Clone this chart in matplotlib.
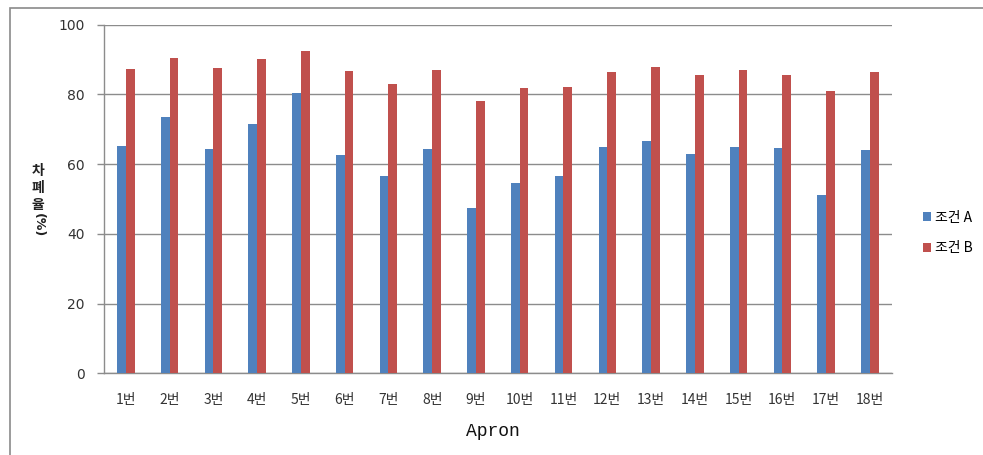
import matplotlib
matplotlib.use("Agg")
import matplotlib.pyplot as plt
import numpy as np
from matplotlib.patches import Rectangle

plt.rcParams['font.family'] = ['Noto Sans CJK KR', 'DejaVu Sans']

categories = [f"{i}번" for i in range(1, 19)]
cond_a = [65.1, 73.6, 64.2, 71.6, 80.4, 62.5, 56.6, 64.2, 47.4,
          54.6, 56.6, 64.8, 66.7, 62.8, 64.8, 64.5, 51.1, 63.9]
cond_b = [87.1, 90.4, 87.4, 90.0, 92.3, 86.6, 82.8, 87.0, 78.2,
          81.7, 82.1, 86.3, 87.7, 85.4, 87.0, 85.4, 80.8, 86.3]
series_names = ["조건 A", "조건 B"]
y_ticks = [0, 20, 40, 60, 80, 100]

blue = "#4F81BD"
red = "#C0504D"
grid_c = "#8C8C8C"

W, H = 983, 455
fig = plt.figure(figsize=(W / 100, H / 100), dpi=100)
ax = fig.add_axes([104 / W, 1 - 373.3 / H, (891.7 - 104) / W, (373.3 - 24.5) / H])

x = np.arange(len(categories))
bw = 0.2
ax.bar(x - bw / 2, cond_a, width=bw, color=blue, label=series_names[0], zorder=3)
ax.bar(x + bw / 2, cond_b, width=bw, color=red, label=series_names[1], zorder=3)

ax.set_xlim(-0.5, len(categories) - 0.5)
ax.set_ylim(0, 100)
ax.set_yticks(y_ticks)
ax.set_yticklabels([str(v) for v in y_ticks], fontsize=10, color="#333333",
                   family=['DejaVu Sans'])
ax.set_xticks(x)
ax.set_xticklabels(categories, fontsize=10, color="#333333")
ax.tick_params(axis='x', length=0, pad=14)
ax.tick_params(axis='y', length=5, width=1, color=grid_c, pad=9)

ax.grid(axis='y', color=grid_c, linewidth=1, zorder=0)
for s in ['top', 'right']:
    ax.spines[s].set_visible(False)
for s in ['left', 'bottom']:
    ax.spines[s].set_color(grid_c)
    ax.spines[s].set_linewidth(1)

# axis titles
fig.text(493 / W, 1 - 432 / H, "Apron", ha='center', va='center',
         fontsize=13, family=['Liberation Mono'], color="#111111")
for ch, yy in zip("차폐율", [171, 188, 205]):
    fig.text(38 / W, 1 - yy / H, ch, ha='center', va='center',
             fontsize=10, fontweight='bold', color="#222222")
fig.text(38 / W, 1 - 225 / H, "(%)", ha='center', va='center', rotation=-90,
         fontsize=9, fontweight='bold', color="#222222", family=['DejaVu Sans'])

# legend
fig.legend(loc='center left', bbox_to_anchor=(910 / W, 1 - 233 / H),
           frameon=False, fontsize=10, handlelength=0.6, handleheight=0.6,
           handletextpad=0.3, labelspacing=1.2)

# outer chart frame
fig.add_artist(Rectangle((10 / W, -0.05), 1.2, 1 - 8 / H + 0.05,
                         transform=fig.transFigure, fill=False,
                         edgecolor="#8A8A8A", linewidth=1.2))

fig.savefig("out.png", dpi=100)
